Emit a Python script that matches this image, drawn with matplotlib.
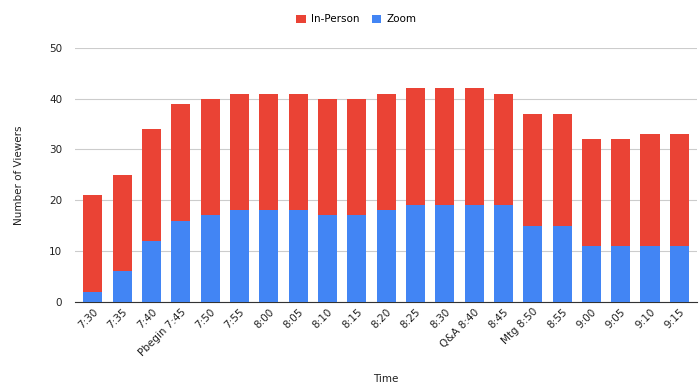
"""
plot.py

Stacked bar chart of viewers per time slot (In-Person vs Zoom).
"""

import numpy as np
import matplotlib
matplotlib.use("Agg")
import matplotlib.pyplot as plt

times = ["7:30", "7:35", "7:40", "Pbegin 7:45", "7:50", "7:55", "8:00",
         "8:05", "8:10", "8:15", "8:20", "8:25", "8:30", "Q&A 8:40",
         "8:45", "Mtg 8:50", "8:55", "9:00", "9:05", "9:10", "9:15"]
zoom = [2, 6, 12, 16, 17, 18, 18, 18, 17, 17, 18, 19, 19, 19, 19,
        15, 15, 11, 11, 11, 11]
in_person = [19, 19, 22, 23, 23, 23, 23, 23, 23, 23, 23, 23, 23, 23, 22,
             22, 22, 21, 21, 22, 22]

RED = "#ea4335"
BLUE = "#4285f4"


def main():
    fig = plt.figure(figsize=(6.99, 3.89), dpi=100)
    ax = fig.add_axes([0.107, 0.224, 0.890, 0.653])

    x = np.arange(len(times))
    ax.bar(x, zoom, width=0.65, color=BLUE, label="Zoom", zorder=3)
    ax.bar(x, in_person, width=0.65, bottom=zoom, color=RED,
           label="In-Person", zorder=3)

    ax.set_xlim(-0.62, len(times) - 0.4)
    ax.set_ylim(0, 50)
    ax.set_yticks([0, 10, 20, 30, 40, 50])
    ax.grid(axis="y", color="#cccccc", linewidth=0.8, zorder=0)
    for side in ["top", "right", "left"]:
        ax.spines[side].set_visible(False)
    ax.spines["bottom"].set_color("#333333")
    ax.tick_params(axis="both", length=0, labelsize=7.5, colors="#222222")
    ax.tick_params(axis="y", pad=9)

    ax.set_xticks(x)
    ax.set_xticklabels(times, rotation=45, ha="right",
                       rotation_mode="anchor")

    ax.set_ylabel("Number of Viewers", fontsize=7.5, color="#222222",
                  labelpad=18)
    ax.set_xlabel("Time", fontsize=7.5, color="#222222", labelpad=12)

    handles, labels = ax.get_legend_handles_labels()
    fig.legend(handles[::-1], labels[::-1], loc="center",
               bbox_to_anchor=(0.51, 0.95), ncol=2, frameon=False,
               fontsize=7.5, handlelength=0.9, handleheight=0.9,
               columnspacing=1.2, handletextpad=0.5)

    fig.savefig("out.png", dpi=100)


if __name__ == '__main__':
    main()
